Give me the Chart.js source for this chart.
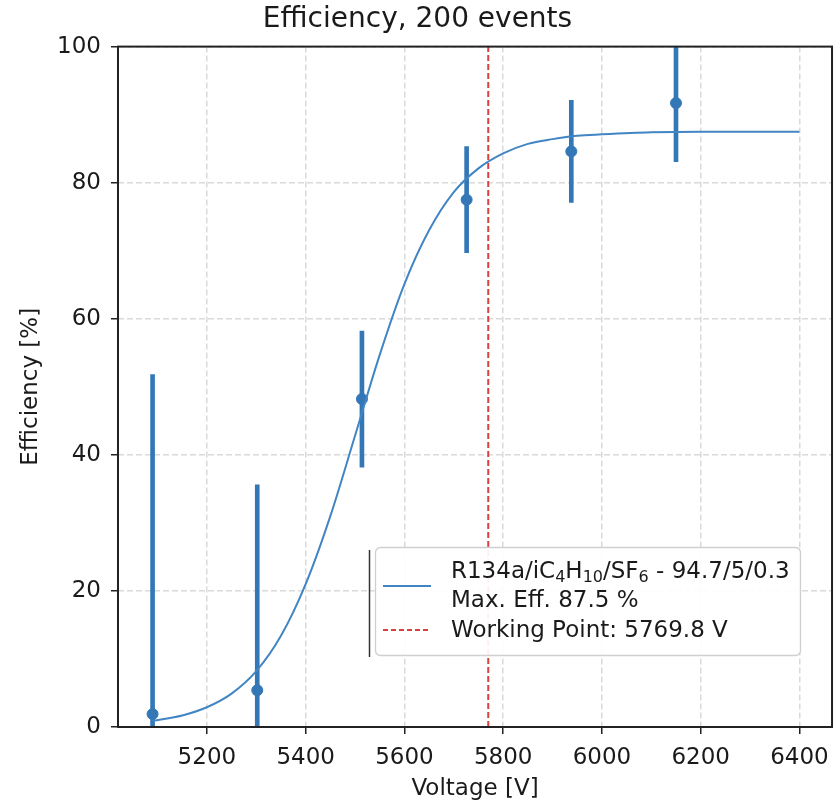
<!DOCTYPE html>
<html>
<head>
<meta charset="utf-8">
<script src="https://cdn.jsdelivr.net/npm/chart.js@4.4.1/dist/chart.umd.min.js"></script>
<style>
  html, body { margin: 0; padding: 0; background: #fff; }
</style>
</head>
<body>
<canvas id="effChart" width="839" height="803"></canvas>
<script>
// measured points (HV scan)
const voltages = [5090, 5302, 5514, 5726, 5938, 6150];
const efficiency = [1.9, 5.4, 48.2, 77.5, 84.6, 91.7];
const effError = [49.9, 30.2, 10.0, 7.8, 7.5, 8.6];

// sigmoid fit
const fitVoltages = [5090, 5150, 5200, 5250, 5300, 5350, 5400, 5450, 5500, 5550, 5600,
  5650, 5700, 5750, 5800, 5850, 5900, 5950, 6000, 6100, 6200, 6300, 6400];
const fitEfficiency = [0.9, 1.7, 2.9, 4.9, 8.2, 13.4, 21.0, 31.0, 42.8, 54.7, 65.1,
  73.0, 78.6, 82.1, 84.3, 85.7, 86.4, 86.9, 87.1, 87.4, 87.5, 87.5, 87.5];

const workingPoint = 5769.8;
const maxEff = 87.5;

const xTicks = [5200, 5400, 5600, 5800, 6000, 6200, 6400];
const xRange = [5020, 6466];
const yRange = [0, 100];

const FONT = "'DejaVu Sans', sans-serif";
const BLUE = '#3477b7';
const FITBLUE = '#4285c4';
const RED = '#d8413d';

const errorBars = voltages.map((v, i) => ({ x: v, y: [efficiency[i] - effError[i], efficiency[i] + effError[i]] }));
const points = voltages.map((v, i) => ({ x: v, y: efficiency[i] }));
const fitLine = fitVoltages.map((v, i) => ({ x: v, y: fitEfficiency[i] }));
const wpLine = [{ x: workingPoint, y: yRange[0] }, { x: workingPoint, y: yRange[1] }];

// full box around the axes, like matplotlib spines
const framePlugin = {
  id: 'frame',
  afterDatasetsDraw(chart) {
    const { ctx, chartArea: a } = chart;
    ctx.save();
    ctx.strokeStyle = '#222';
    ctx.lineWidth = 2;
    ctx.strokeRect(a.left, a.top, a.right - a.left, a.bottom - a.top);
    ctx.restore();
  }
};

// legend with subscripts, drawn by hand
const legendPlugin = {
  id: 'boxLegend',
  afterDraw(chart) {
    const ctx = chart.ctx;
    ctx.save();
    ctx.strokeStyle = '#333';
    ctx.lineWidth = 1.5;
    ctx.beginPath();
    ctx.moveTo(369.5, 550);
    ctx.lineTo(369.5, 657);
    ctx.stroke();

    ctx.fillStyle = 'rgba(255,255,255,0.92)';
    ctx.strokeStyle = '#cfcfcf';
    ctx.lineWidth = 1.3;
    ctx.beginPath();
    ctx.roundRect(375.5, 547.5, 425, 108, 5);
    ctx.fill();
    ctx.stroke();

    // handles
    ctx.strokeStyle = FITBLUE;
    ctx.lineWidth = 2;
    ctx.beginPath();
    ctx.moveTo(383, 586);
    ctx.lineTo(431, 586);
    ctx.stroke();
    ctx.strokeStyle = RED;
    ctx.setLineDash([5, 3]);
    ctx.beginPath();
    ctx.moveTo(383, 630);
    ctx.lineTo(431, 630);
    ctx.stroke();
    ctx.setLineDash([]);

    ctx.fillStyle = '#1a1a1a';
    ctx.textBaseline = 'middle';
    const parts = [['R134a/iC', 0], ['4', 1], ['H', 0], ['10', 1], ['/SF', 0], ['6', 1], [' - 94.7/5/0.3', 0]];
    let x = 451;
    parts.forEach(([t, sub]) => {
      ctx.font = (sub ? '16px ' : '23px ') + FONT;
      ctx.fillText(t, x, sub ? 578 : 572);
      x += ctx.measureText(t).width;
    });
    ctx.font = '23px ' + FONT;
    ctx.fillText('Max. Eff. ' + maxEff.toFixed(1) + ' %', 451, 601);
    ctx.fillText('Working Point: ' + workingPoint.toFixed(1) + ' V', 451, 631);
    ctx.restore();
  }
};

new Chart(document.getElementById('effChart'), {
  type: 'line',
  data: {
    datasets: [
      {
        type: 'line',
        data: wpLine,
        borderColor: RED,
        borderWidth: 2,
        borderDash: [6, 3],
        pointRadius: 0,
        order: 0
      },
      {
        type: 'line',
        data: fitLine,
        borderColor: FITBLUE,
        borderWidth: 2,
        pointRadius: 0,
        cubicInterpolationMode: 'monotone',
        order: 1
      },
      {
        type: 'line',
        data: points,
        showLine: false,
        pointRadius: 5.5,
        pointBackgroundColor: BLUE,
        pointBorderColor: BLUE,
        order: 2
      },
      {
        type: 'bar',
        data: errorBars,
        backgroundColor: BLUE,
        barThickness: 4,
        order: 3
      }
    ]
  },
  options: {
    responsive: false,
    animation: false,
    events: [],
    layout: { padding: { top: 0, right: 4, bottom: 0, left: 0 } },
    plugins: {
      legend: { display: false },
      tooltip: { enabled: false },
      title: {
        display: true,
        text: 'Efficiency, 200 events',
        color: '#1a1a1a',
        font: { family: FONT, size: 28, weight: 'normal' },
        padding: { top: 3, bottom: 10 }
      }
    },
    scales: {
      x: {
        type: 'linear',
        min: xRange[0],
        max: xRange[1],
        offset: false,
        afterBuildTicks: (axis) => { axis.ticks = xTicks.map(v => ({ value: v })); },
        afterFit: (scale) => { scale.height = 76; },
        ticks: {
          color: '#1a1a1a',
          font: { family: FONT, size: 23 },
          padding: 10,
          maxRotation: 0,
          callback: (v) => String(v)
        },
        grid: {
          color: '#dadada',
          lineWidth: 1.5,
          offset: false,
          tickLength: 7,
          tickColor: '#222',
          tickWidth: 1.5,
          tickBorderDash: []
        },
        border: { display: false, dash: [6, 3] },
        title: {
          display: true,
          text: 'Voltage [V]',
          color: '#1a1a1a',
          font: { family: FONT, size: 23 },
          padding: { top: 0, bottom: 0 }
        }
      },
      y: {
        type: 'linear',
        min: yRange[0],
        max: yRange[1],
        afterFit: (scale) => { scale.width = 118; },
        ticks: {
          stepSize: 20,
          color: '#1a1a1a',
          font: { family: FONT, size: 23 },
          padding: 10
        },
        grid: {
          color: '#dadada',
          lineWidth: 1.5,
          tickLength: 7,
          tickColor: '#222',
          tickWidth: 1.5,
          tickBorderDash: []
        },
        border: { display: false, dash: [6, 3] },
        title: {
          display: true,
          text: 'Efficiency [%]',
          color: '#1a1a1a',
          font: { family: FONT, size: 23 },
          padding: { top: 17, bottom: 0 }
        }
      }
    }
  },
  plugins: [framePlugin, legendPlugin]
});
</script>
</body>
</html>
